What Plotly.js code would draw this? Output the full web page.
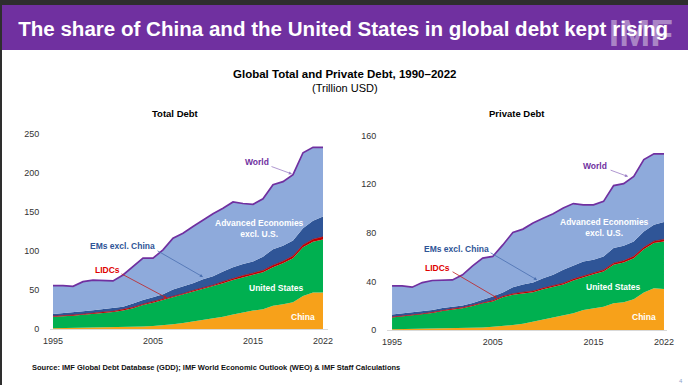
<!DOCTYPE html>
<html>
<head>
<meta charset="utf-8">
<script src="https://cdn.plot.ly/plotly-3.0.1.min.js"></script>
<style>
html,body{margin:0;padding:0;background:#fff;}
#chart{width:688px;height:385px;}
</style>
</head>
<body>
<div id="chart"></div>
<script>
// ---------- DATA ----------
const years = [1995,1996,1997,1998,1999,2000,2001,2002,2003,2004,2005,2006,2007,2008,2009,2010,2011,2012,2013,2014,2015,2016,2017,2018,2019,2020,2021,2022];

// Total debt (trillion USD), layer values
const totalChina = [1.3,1.5,1.7,2.0,2.2,2.4,2.7,3.0,3.3,3.6,4.2,5.0,6.4,8.0,9.8,12.0,14.0,16.0,19.0,21.8,24.0,25.6,30.0,32.0,34.6,42.7,47.0,47.0];
const totalUS    = [14.7,15.0,15.8,16.5,17.8,18.6,19.3,21.0,23.7,27.4,29.8,32.6,34.6,36.0,38.2,39.0,40.6,43.0,44.0,44.8,45.6,47.4,49.5,52.6,56.4,62.3,65.0,68.0];
const totalLIDC  = [0.8,0.8,0.9,0.9,1.0,1.0,1.0,1.1,1.1,1.2,1.3,1.4,1.5,1.6,1.7,1.8,1.9,2.0,2.1,2.2,2.3,2.4,2.5,2.6,2.8,3.0,3.2,3.4];
const totalEM    = [2.8,3.2,3.1,3.6,3.5,4.0,4.0,3.9,4.9,5.4,5.7,6.0,8.5,9.0,9.3,11.2,11.5,13.0,14.4,14.8,14.8,17.6,20.6,19.6,19.8,21.5,23.8,26.0];
const totalWorld = [56,56,55,61,63,62.5,62,69.6,80,91,91,101.7,116.6,123,131.6,140,147.8,155,163,161,160,167,185,189,198,226,233,233];

// Private debt (trillion USD), layer values
const privChina = [0.6,0.7,0.8,0.9,1.0,1.1,1.2,1.4,1.7,2.1,2.7,3.3,4.1,5.2,6.9,8.8,10.2,11.8,13.7,16.5,17.9,19.2,22.0,22.8,25.3,30.8,34.4,33.8];
const privUS    = [9.6,10.3,11.0,11.9,13.0,14.6,15.6,16.5,18.1,19.9,20.7,23.6,24.8,25.0,24.1,24.7,25.0,25.6,27.0,26.9,28.0,28.9,31.6,32.7,33.8,35.7,37.1,39.0];
const privLIDC  = [0.5,0.5,0.5,0.5,0.6,0.6,0.6,0.6,0.7,0.7,0.8,0.8,0.9,0.9,1.0,1.0,1.1,1.1,1.2,1.2,1.3,1.3,1.4,1.4,1.5,1.5,1.6,1.7];
const privEM    = [2.0,2.0,2.0,2.0,1.8,1.9,1.8,1.7,1.8,2.2,3.3,3.1,5.4,6.3,7.0,8.1,9.1,11.0,10.9,11.8,10.5,11.1,12.4,12.4,12.2,13.1,13.5,14.3];
const privWorld = [36.3,36.3,35.2,39,40.7,41.2,41.2,45.4,52.8,59.1,60.5,70,80.3,83,88,92,95.7,100.3,104,103,103,105.8,118.8,120.4,126.4,140.2,144.9,144.9];

const xTicks = [1995,2005,2015,2022];
const xTickText = ['1995','2005','2015','2022'];

// ---------- STYLE ----------
const COL = {
  china:'#f7a11a', us:'#00b050', lidc:'#c00000', em:'#2f5597', ae:'#8eaadb', world:'#7030a0'
};
const W = 688, H = 385;
const px = v => v / W;
const py = v => 1 - v / H;

function cum(arrs){
  const out = []; let run = years.map(()=>0);
  arrs.forEach(a => { run = run.map((r,i)=>r + a[i]); out.push(run.slice()); });
  return out;
}

function panel(layers, world, xa, ya){
  const [c1,c2,c3,c4] = cum(layers);
  const base = {x: years, xaxis: xa, yaxis: ya, mode:'lines', hoverinfo:'skip', showlegend:false};
  return [
    Object.assign({}, base, {y:c1, fill:'tozeroy', fillcolor:COL.china, line:{width:0, color:COL.china}}),
    Object.assign({}, base, {y:c2, fill:'tonexty', fillcolor:COL.us, line:{width:0, color:COL.us}}),
    Object.assign({}, base, {y:c3, fill:'tonexty', fillcolor:COL.lidc, line:{width:0.6, color:COL.lidc}}),
    Object.assign({}, base, {y:c4, fill:'tonexty', fillcolor:COL.em, line:{width:0, color:COL.em}}),
    Object.assign({}, base, {y:world, fill:'tonexty', fillcolor:COL.ae, line:{width:1.7, color:COL.world}})
  ];
}

const data = [].concat(
  panel([totalChina,totalUS,totalLIDC,totalEM], totalWorld, 'x', 'y'),
  panel([privChina,privUS,privLIDC,privEM], privWorld, 'x2', 'y2')
);

const FONT = 'Liberation Sans, Arial, sans-serif';
const tickFont = {family:FONT, size:9, color:'#333333'};

function xAxis(dom, rng){
  return {domain:dom, range:rng, tickvals:xTicks, ticktext:xTickText, showgrid:false, zeroline:false,
    showline:true, linecolor:'#d9d9d9', linewidth:1, ticks:'outside', ticklen:3, tickcolor:'rgba(0,0,0,0)',
    tickfont:tickFont, fixedrange:true};
}
function yAxis(dom, rng, dt, anchor){
  return {domain:dom, range:rng, dtick:dt, tick0:0, showgrid:false, zeroline:false, showline:false,
    ticks:'outside', ticklen:8, tickcolor:'rgba(0,0,0,0)', tickfont:tickFont, anchor:anchor, fixedrange:true};
}

const lbl = (text, x, y, xref, yref, color, size) => ({
  text, x, y, xref, yref, showarrow:false, xanchor:'center', yanchor:'middle',
  font:{family:FONT, size:size||8.5, color:color, weight:'bold'}
});
const arrow = (x, y, ax, ay, xref, yref, color) => ({
  text:'', x, y, ax, ay, xref, yref, showarrow:true, arrowhead:2, arrowsize:0.8, arrowwidth:0.8, arrowcolor:color
});

const TITLE = 'The share of China and the United States in global debt kept rising';

const annotations = [
  // banner
  {text:'IMF', x:px(640.5), y:py(33), xref:'paper', yref:'paper', showarrow:false, xanchor:'center', yanchor:'middle',
   font:{family:FONT, size:37, color:'rgba(255,255,255,0.42)', weight:'bold'}},
  {text:TITLE, x:px(343), y:py(29), xref:'paper', yref:'paper',
   showarrow:false, xanchor:'center', yanchor:'middle',
   font:{family:FONT, size:20, color:'#ffffff', weight:'bold'}},
  // titles
  {text:'<b>Global Total and Private Debt, 1990–2022</b>', x:px(345), y:py(74), xref:'paper', yref:'paper', showarrow:false,
   xanchor:'center', yanchor:'middle', font:{family:FONT, size:11.5, color:'#000'}},
  {text:'(Trillion USD)', x:px(345), y:py(88), xref:'paper', yref:'paper', showarrow:false,
   xanchor:'center', yanchor:'middle', font:{family:FONT, size:11, color:'#000'}},
  {text:'<b>Total Debt</b>', x:px(175.5), y:py(113), xref:'paper', yref:'paper', showarrow:false,
   xanchor:'center', yanchor:'middle', font:{family:FONT, size:9.5, color:'#000'}},
  {text:'<b>Private Debt</b>', x:px(517), y:py(113), xref:'paper', yref:'paper', showarrow:false,
   xanchor:'center', yanchor:'middle', font:{family:FONT, size:9.5, color:'#000'}},
  // source
  {text:'<b>Source: IMF Global Debt Database (GDD); IMF World Economic Outlook (WEO) & IMF Staff Calculations</b>',
   x:px(30), y:py(367), xref:'paper', yref:'paper', showarrow:false, xanchor:'left', yanchor:'middle',
   font:{family:FONT, size:7.5, color:'#111'}},
  {text:'4', x:px(681), y:py(381), xref:'paper', yref:'paper', showarrow:false, xanchor:'center', yanchor:'middle',
   font:{family:FONT, size:6, color:'#8fa3cc'}},

  // left panel labels
  lbl('World', 2015.35, 214, 'x', 'y', COL.world),
  arrow(2018.9, 198.8, -22, -8, 'x', 'y', '#9a7cc4'),
  lbl('Advanced Economies<br>excl. U.S.', 2015.6, 128.4, 'x', 'y', '#ffffff'),
  lbl('EMs excl. China', 2001.9, 106.6, 'x', 'y', COL.em),
  arrow(2010, 67, -47, -27, 'x', 'y', '#4a6fb0'),
  lbl('LIDCs', 2000.45, 75.9, 'x', 'y', '#e00000'),
  arrow(2006.4, 40, -47, -25, 'x', 'y', '#c02020'),
  lbl('United States', 2017.3, 52.9, 'x', 'y', '#ffffff'),
  lbl('China', 2020, 15.7, 'x', 'y', '#ffffff'),

  // right panel labels
  lbl('World', 2015.16, 134.8, 'x2', 'y2', COL.world),
  arrow(2018.44, 126.2, -19, -7, 'x2', 'y2', '#9a7cc4'),
  lbl('Advanced Economies<br>excl. U.S.', 2016.05, 84.5, 'x2', 'y2', '#ffffff'),
  lbl('EMs excl. China', 2001.36, 66.8, 'x2', 'y2', COL.em),
  arrow(2009.4, 41.2, -48, -28, 'x2', 'y2', '#4a6fb0'),
  lbl('LIDCs', 1999.5, 51.1, 'x2', 'y2', '#e00000'),
  arrow(2005.43, 26.4, -46, -27, 'x2', 'y2', '#c02020'),
  lbl('United States', 2016.95, 35.5, 'x2', 'y2', '#ffffff'),
  lbl('China', 2020.0, 10.7, 'x2', 'y2', '#ffffff')
];

const shapes = [
  {type:'rect', xref:'paper', yref:'paper', x0:0, x1:1, y0:py(5), y1:1, fillcolor:'#2e2e2e', line:{width:0}, layer:'below'},
  {type:'rect', xref:'paper', yref:'paper', x0:px(2), x1:1, y0:py(50), y1:py(5), fillcolor:'#7030a0', line:{width:0}, layer:'below'},
  {type:'rect', xref:'paper', yref:'paper', x0:0, x1:px(2), y0:0, y1:1, fillcolor:'#2e2e2e', line:{width:0}, layer:'below'}
];

const layout = {
  width:W, height:H, margin:{l:0,r:0,t:0,b:0,pad:0},
  paper_bgcolor:'#ffffff', plot_bgcolor:'rgba(0,0,0,0)', showlegend:false,
  xaxis: xAxis([px(50), px(328)], [1994.7, 2022.5]),
  yaxis: yAxis([py(329.3), py(134)], [0,250], 50, 'x'),
  xaxis2: Object.assign(xAxis([px(387), px(667)], [1994.5, 2022.3]), {anchor:'y2'}),
  yaxis2: yAxis([py(330), py(135.5)], [0,160], 40, 'x2'),
  annotations, shapes
};
layout.xaxis.anchor = 'y';

// condense the banner title and IMF mark horizontally (as in the narrow slide font)
function condense(gd){
  gd.querySelectorAll('.annotation-text').forEach(t => {
    const s = t.textContent;
    if (s === TITLE) { t.setAttribute('textLength', 650); t.setAttribute('lengthAdjust', 'spacingAndGlyphs'); }
    if (s === 'IMF') { t.setAttribute('textLength', 64); t.setAttribute('lengthAdjust', 'spacingAndGlyphs'); }
  });
}

Plotly.newPlot('chart', data, layout, {staticPlot:true, displayModeBar:false}).then(condense);
</script>
</body>
</html>
